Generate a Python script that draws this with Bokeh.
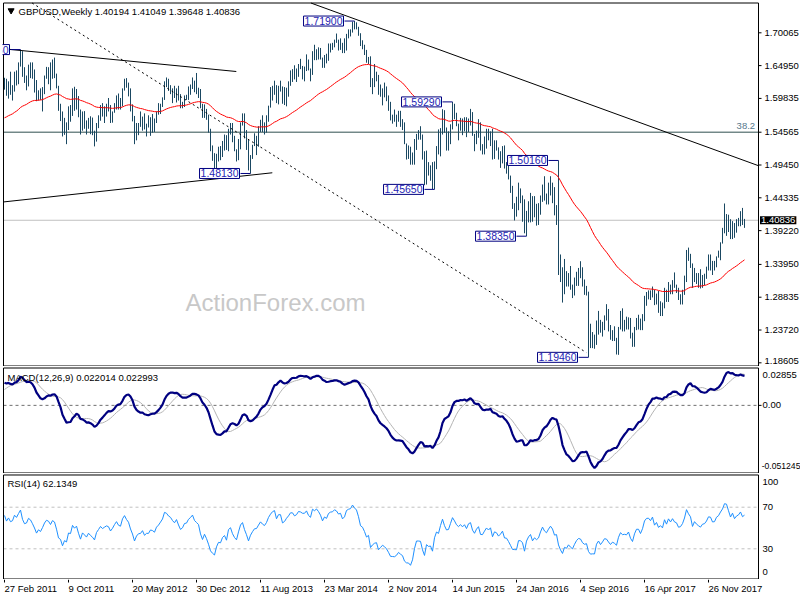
import numpy as np
from bokeh.plotting import figure
from bokeh.models import Range1d, Label
from bokeh.layouts import column
from bokeh.embed import file_html
from bokeh.resources import INLINE
from bokeh.core.properties import value

# ---------------- data (weekly GBPUSD, week 0 = 27 Feb 2011) ----------------
highs = [
    1.6305, 1.6290, 1.6250, 1.6400, 1.6190, 1.6400, 1.6420, 1.6545, 1.6745, 1.6720,
    1.6470, 1.6340, 1.6510, 1.6545, 1.6545, 1.6435, 1.6270, 1.6110, 1.6140, 1.6160,
    1.6340, 1.6475, 1.6470, 1.6545, 1.6590, 1.6620, 1.6370, 1.6180, 1.5900, 1.5780,
    1.5680, 1.5610, 1.5860, 1.5880, 1.6140, 1.6165, 1.6130, 1.6020, 1.5810, 1.5780,
    1.5785, 1.5640, 1.5680, 1.5705, 1.5685, 1.5480, 1.5600, 1.5720, 1.5880, 1.5910,
    1.5860, 1.5900, 1.5990, 1.5880, 1.5780, 1.5910, 1.6030, 1.6060, 1.5990, 1.6140,
    1.6290, 1.6300, 1.6230, 1.6140, 1.5890, 1.5710, 1.5600, 1.5600, 1.5780, 1.5700,
    1.5750, 1.5590, 1.5720, 1.5690, 1.5740, 1.5670, 1.5780, 1.5910, 1.5900, 1.6000,
    1.6250, 1.6310, 1.6290, 1.6190, 1.6140, 1.6180, 1.6140, 1.6180, 1.6050, 1.5930,
    1.6030, 1.6040, 1.6170, 1.6200, 1.6310, 1.6260, 1.6380, 1.6150, 1.6130, 1.5900,
    1.5890, 1.5820, 1.5730, 1.5510, 1.5250, 1.5130, 1.5120, 1.5230, 1.5240, 1.5320,
    1.5420, 1.5410, 1.5510, 1.5600, 1.5600, 1.5400, 1.5190, 1.5350, 1.5610, 1.5750,
    1.5750, 1.5490, 1.5350, 1.5100, 1.5260, 1.5440, 1.5400, 1.5550, 1.5650, 1.5720,
    1.5610, 1.5720, 1.5870, 1.6160, 1.6180, 1.6260, 1.6190, 1.6180, 1.6260, 1.6170,
    1.6160, 1.6150, 1.6250, 1.6420, 1.6440, 1.6500, 1.6450, 1.6520, 1.6600, 1.6490,
    1.6480, 1.6670, 1.6590, 1.6450, 1.6720, 1.6820, 1.6750, 1.6780, 1.6770, 1.6620,
    1.6660, 1.6680, 1.6840, 1.6840, 1.6850, 1.6900, 1.6995, 1.6900, 1.6920, 1.6850,
    1.6920, 1.6990, 1.7060, 1.7060, 1.7180, 1.7190, 1.7170, 1.7100, 1.7000, 1.6890,
    1.6820, 1.6740, 1.6630, 1.6640, 1.6300, 1.6520, 1.6400, 1.6350, 1.6200, 1.6140,
    1.6230, 1.6170, 1.6030, 1.5930, 1.5730, 1.5810, 1.5730, 1.5790, 1.5790, 1.5660,
    1.5610, 1.5280, 1.5250, 1.5230, 1.5140, 1.5350, 1.5430, 1.5490, 1.5550, 1.5420,
    1.5160, 1.5170, 1.4990, 1.4940, 1.4990, 1.5000, 1.5240, 1.5500, 1.5520, 1.5815,
    1.5800, 1.5530, 1.5470, 1.5580, 1.5929, 1.5900, 1.5760, 1.5590, 1.5680, 1.5670,
    1.5690, 1.5690, 1.5670, 1.5820, 1.5770, 1.5430, 1.5480, 1.5660, 1.5610, 1.5270,
    1.5390, 1.5510, 1.5510, 1.5470, 1.5510, 1.5330, 1.5330, 1.5220, 1.5160, 1.5240,
    1.5250, 1.4990, 1.4930, 1.4780, 1.4620, 1.4350, 1.4450, 1.4670, 1.4580, 1.4470,
    1.4410, 1.4230, 1.4380, 1.4510, 1.4460, 1.4460, 1.4340, 1.4350, 1.4470, 1.4640,
    1.4770, 1.4500, 1.4670, 1.4770, 1.4670, 1.4600, 1.4320, 1.5016, 1.3550, 1.3350,
    1.3480, 1.3290, 1.3260, 1.3370, 1.3080, 1.3190, 1.3280, 1.3340, 1.3445, 1.3350,
    1.3160, 1.3060, 1.2970, 1.2470, 1.2340, 1.2300, 1.2520, 1.2670, 1.2530, 1.2500,
    1.2600, 1.2775, 1.2700, 1.2450, 1.2370, 1.2430, 1.2250, 1.2420, 1.2670, 1.2710,
    1.2530, 1.2580, 1.2570, 1.2560, 1.2330, 1.2420, 1.2560, 1.2610, 1.2550, 1.2620,
    1.2905, 1.2965, 1.2990, 1.2990, 1.3050, 1.3000, 1.2940, 1.2980, 1.2820, 1.2800,
    1.3030, 1.3000, 1.3120, 1.3080, 1.3150, 1.3270, 1.3080, 1.3030, 1.2930, 1.3000,
    1.3220, 1.3620, 1.3657, 1.3560, 1.3410, 1.3340, 1.3260, 1.3260, 1.3320, 1.3230,
    1.3250, 1.3360, 1.3550, 1.3550, 1.3450, 1.3450, 1.3520, 1.3610, 1.3740, 1.3965,
    1.4345, 1.4180, 1.4170, 1.4100, 1.4070, 1.4040, 1.4100, 1.4120, 1.4225, 1.4276,
    1.41049,
]
lows = [
    1.6120, 1.6025, 1.5980, 1.6040, 1.5950, 1.6090, 1.6185, 1.6205, 1.6480, 1.6320,
    1.6225, 1.6110, 1.6170, 1.6300, 1.6290, 1.6075, 1.5940, 1.5950, 1.5960, 1.5780,
    1.6050, 1.6290, 1.6205, 1.6110, 1.6290, 1.6300, 1.6140, 1.5790, 1.5630, 1.5390,
    1.5415, 1.5270, 1.5490, 1.5620, 1.5710, 1.5790, 1.5810, 1.5690, 1.5420, 1.5480,
    1.5510, 1.5420, 1.5510, 1.5425, 1.5410, 1.5235, 1.5310, 1.5520, 1.5635, 1.5700,
    1.5600, 1.5700, 1.5780, 1.5600, 1.5605, 1.5760, 1.5810, 1.5810, 1.5810, 1.5860,
    1.6105, 1.6150, 1.6015, 1.5780, 1.5625, 1.5270, 1.5330, 1.5410, 1.5540, 1.5480,
    1.5500, 1.5390, 1.5530, 1.5400, 1.5450, 1.5460, 1.5600, 1.5730, 1.5740, 1.5850,
    1.5960, 1.6160, 1.6100, 1.6050, 1.5910, 1.5990, 1.5920, 1.5950, 1.5830, 1.5830,
    1.5850, 1.5960, 1.5960, 1.6040, 1.6130, 1.6080, 1.6050, 1.5990, 1.5830, 1.5680,
    1.5680, 1.5650, 1.5450, 1.5160, 1.5010, 1.4890, 1.4830, 1.5000, 1.5020, 1.5070,
    1.5170, 1.5180, 1.5160, 1.5420, 1.5300, 1.5160, 1.5000, 1.5020, 1.5190, 1.5560,
    1.5360, 1.5180, 1.4860, 1.4813, 1.5040, 1.5240, 1.5100, 1.5230, 1.5460, 1.5460,
    1.5420, 1.5450, 1.5620, 1.5840, 1.5950, 1.6040, 1.5910, 1.5890, 1.6090, 1.5900,
    1.5880, 1.5860, 1.6010, 1.6180, 1.6240, 1.6280, 1.6240, 1.6320, 1.6440, 1.6280,
    1.6250, 1.6410, 1.6420, 1.6250, 1.6350, 1.6580, 1.6580, 1.6590, 1.6590, 1.6460,
    1.6460, 1.6530, 1.6570, 1.6700, 1.6740, 1.6780, 1.6850, 1.6730, 1.6740, 1.6690,
    1.6690, 1.6730, 1.6920, 1.6950, 1.7010, 1.7060, 1.7060, 1.6960, 1.6800, 1.6750,
    1.6660, 1.6540, 1.6520, 1.6160, 1.6050, 1.6160, 1.6250, 1.6040, 1.6010, 1.5875,
    1.6000, 1.5940, 1.5790, 1.5640, 1.5590, 1.5620, 1.5540, 1.5620, 1.5540, 1.5490,
    1.5270, 1.5030, 1.5040, 1.4950, 1.4950, 1.4950, 1.5180, 1.5340, 1.5340, 1.5030,
    1.4630, 1.4640, 1.4780, 1.4700, 1.4570, 1.4565, 1.4880, 1.5110, 1.5080, 1.5420,
    1.5450, 1.5170, 1.5170, 1.5270, 1.5500, 1.5660, 1.5550, 1.5330, 1.5480, 1.5410,
    1.5470, 1.5380, 1.5460, 1.5560, 1.5400, 1.5160, 1.5270, 1.5370, 1.5170, 1.5110,
    1.5110, 1.5200, 1.5330, 1.5240, 1.5030, 1.5040, 1.5170, 1.5030, 1.4900, 1.4970,
    1.4890, 1.4810, 1.4720, 1.4510, 1.4260, 1.4080, 1.4140, 1.4240, 1.4350, 1.4060,
    1.3880, 1.3835, 1.4050, 1.4050, 1.4060, 1.4130, 1.4000, 1.4010, 1.4170, 1.4370,
    1.4390, 1.4330, 1.4330, 1.4470, 1.4350, 1.4160, 1.4010, 1.3230, 1.3120, 1.2800,
    1.2930, 1.3050, 1.3050, 1.3000, 1.2870, 1.2910, 1.3060, 1.3060, 1.3180, 1.3050,
    1.2920, 1.2910, 1.1946, 1.2090, 1.2090, 1.2080, 1.2140, 1.2300, 1.2330, 1.2270,
    1.2370, 1.2520, 1.2350, 1.2220, 1.2200, 1.2200, 1.1990, 1.1985, 1.2380, 1.2350,
    1.2350, 1.2380, 1.2380, 1.2240, 1.2110, 1.2110, 1.2370, 1.2380, 1.2370, 1.2370,
    1.2510, 1.2750, 1.2850, 1.2840, 1.2880, 1.2760, 1.2770, 1.2640, 1.2590, 1.2590,
    1.2710, 1.2810, 1.2810, 1.2930, 1.2930, 1.3030, 1.2950, 1.2840, 1.2770, 1.2770,
    1.2920, 1.3120, 1.3450, 1.3340, 1.3030, 1.3120, 1.3090, 1.3030, 1.3020, 1.3030,
    1.3070, 1.3170, 1.3300, 1.3300, 1.3230, 1.3300, 1.3350, 1.3500, 1.3460, 1.3720,
    1.3880, 1.3840, 1.3900, 1.3790, 1.3790, 1.3810, 1.3890, 1.3990, 1.3990, 1.4010,
    1.39648,
]
closes = [
    1.6255, 1.6080, 1.6220, 1.6100, 1.6140, 1.6385, 1.6320, 1.6500, 1.6690, 1.6405,
    1.6250, 1.6280, 1.6485, 1.6435, 1.6310, 1.6160, 1.5960, 1.6075, 1.6010, 1.6145,
    1.6320, 1.6435, 1.6405, 1.6305, 1.6450, 1.6410, 1.6185, 1.5830, 1.5760, 1.5420,
    1.5580, 1.5510, 1.5815, 1.5790, 1.6115, 1.6000, 1.6085, 1.5780, 1.5470, 1.5720,
    1.5615, 1.5500, 1.5650, 1.5540, 1.5450, 1.5310, 1.5580, 1.5700, 1.5830, 1.5745,
    1.5800, 1.5850, 1.5820, 1.5670, 1.5760, 1.5890, 1.6000, 1.5890, 1.5860, 1.6130,
    1.6270, 1.6160, 1.6080, 1.5860, 1.5670, 1.5350, 1.5510, 1.5590, 1.5600, 1.5690,
    1.5510, 1.5570, 1.5570, 1.5670, 1.5650, 1.5600, 1.5740, 1.5800, 1.5890, 1.5990,
    1.6240, 1.6220, 1.6160, 1.6130, 1.6060, 1.6010, 1.6100, 1.5980, 1.5870, 1.5910,
    1.6020, 1.6030, 1.6130, 1.6180, 1.6250, 1.6150, 1.6110, 1.6070, 1.5860, 1.5700,
    1.5810, 1.5680, 1.5480, 1.5170, 1.5030, 1.4920, 1.5100, 1.5210, 1.5190, 1.5320,
    1.5370, 1.5200, 1.5500, 1.5560, 1.5350, 1.5200, 1.5100, 1.5340, 1.5590, 1.5690,
    1.5430, 1.5210, 1.4890, 1.5100, 1.5240, 1.5360, 1.5370, 1.5510, 1.5650, 1.5570,
    1.5520, 1.5640, 1.5860, 1.6020, 1.6150, 1.6210, 1.5970, 1.6170, 1.6170, 1.5910,
    1.5970, 1.6110, 1.6220, 1.6370, 1.6370, 1.6290, 1.6340, 1.6480, 1.6470, 1.6440,
    1.6440, 1.6530, 1.6440, 1.6400, 1.6700, 1.6670, 1.6740, 1.6690, 1.6620, 1.6500,
    1.6620, 1.6590, 1.6750, 1.6800, 1.6810, 1.6880, 1.6860, 1.6810, 1.6830, 1.6740,
    1.6790, 1.6970, 1.7010, 1.7030, 1.7150, 1.7110, 1.7080, 1.6980, 1.6820, 1.6790,
    1.6700, 1.6570, 1.6600, 1.6220, 1.6270, 1.6300, 1.6310, 1.6050, 1.6090, 1.6130,
    1.6080, 1.6000, 1.5860, 1.5660, 1.5650, 1.5640, 1.5660, 1.5700, 1.5630, 1.5570,
    1.5280, 1.5160, 1.5150, 1.4970, 1.5050, 1.5240, 1.5390, 1.5390, 1.5380, 1.5050,
    1.4730, 1.4980, 1.4890, 1.4900, 1.4620, 1.4990, 1.5190, 1.5130, 1.5430, 1.5730,
    1.5470, 1.5280, 1.5300, 1.5570, 1.5880, 1.5750, 1.5590, 1.5510, 1.5600, 1.5510,
    1.5600, 1.5450, 1.5650, 1.5700, 1.5410, 1.5270, 1.5430, 1.5530, 1.5190, 1.5180,
    1.5310, 1.5430, 1.5350, 1.5430, 1.5050, 1.5230, 1.5190, 1.5040, 1.5110, 1.5210,
    1.4910, 1.4900, 1.4740, 1.4530, 1.4270, 1.4260, 1.4250, 1.4500, 1.4500, 1.4400,
    1.3900, 1.4220, 1.4370, 1.4460, 1.4120, 1.4230, 1.4130, 1.4190, 1.4410, 1.4610,
    1.4440, 1.4360, 1.4500, 1.4620, 1.4510, 1.4240, 1.4260, 1.3680, 1.3290, 1.2950,
    1.3180, 1.3100, 1.3230, 1.3050, 1.2920, 1.3080, 1.3220, 1.3300, 1.3270, 1.3060,
    1.2960, 1.2980, 1.2430, 1.2190, 1.2200, 1.2190, 1.2490, 1.2600, 1.2380, 1.2470,
    1.2580, 1.2560, 1.2410, 1.2270, 1.2340, 1.2280, 1.2180, 1.2410, 1.2560, 1.2480,
    1.2490, 1.2470, 1.2550, 1.2320, 1.2180, 1.2400, 1.2550, 1.2550, 1.2400, 1.2550,
    1.2840, 1.2950, 1.2960, 1.2890, 1.3030, 1.2790, 1.2890, 1.2730, 1.2790, 1.2720,
    1.3020, 1.2880, 1.3100, 1.3000, 1.3140, 1.3040, 1.3010, 1.2870, 1.2890, 1.2990,
    1.3200, 1.3610, 1.3490, 1.3400, 1.3070, 1.3280, 1.3190, 1.3130, 1.3080, 1.3190,
    1.3210, 1.3310, 1.3480, 1.3470, 1.3340, 1.3350, 1.3510, 1.3570, 1.3720, 1.3860,
    1.4150, 1.4140, 1.3990, 1.3830, 1.4000, 1.3850, 1.3960, 1.4010, 1.4140, 1.4020,
    1.40836,
]
# weekly closes before the first visible bar (Mar 2010 - Feb 2011), used only to warm up the indicators
warmup_closes = [
    1.5000, 1.5050, 1.5150, 1.4900, 1.5200, 1.5300, 1.5440, 1.5380, 1.5280, 1.4830,
    1.4560, 1.4370, 1.4480, 1.4510, 1.4540, 1.4800, 1.5110, 1.5150, 1.5160, 1.5300,
    1.5420, 1.5520, 1.5890, 1.5650, 1.5530, 1.5470, 1.5500, 1.5440, 1.5600, 1.5700,
    1.5790, 1.5870, 1.5900, 1.5720, 1.5730, 1.6240, 1.6140, 1.5980, 1.5760, 1.5610,
    1.5760, 1.5600, 1.5420, 1.5600, 1.5500, 1.5850, 1.5980, 1.5960, 1.6120, 1.6040,
    1.6200, 1.6140,
]
ema55_start = 1.57   # 55-week EMA level at the start of the warm-up

date_ticks = [0, 32, 64, 96, 128, 160, 192, 224, 256, 288, 320, 352]
date_labels = ["27 Feb 2011", "9 Oct 2011", "20 May 2012", "30 Dec 2012", "11 Aug 2013",
               "23 Mar 2014", "2 Nov 2014", "14 Jun 2015", "24 Jan 2016", "4 Sep 2016",
               "16 Apr 2017", "26 Nov 2017"]
price_ticks = [1.70065, 1.64950, 1.59835, 1.54565, 1.49450, 1.44335, 1.39220,
               1.33950, 1.28835, 1.23720, 1.18605]
macd_labels = ["0.02855", "0.00", "-0.051245"]
rsi_labels = ["100", "70", "30", "0"]

marked_weeks = [8, 123, 175, 215, 224, 261, 277, 292]
marked_prices = [1.6745, 1.4813, 1.7190, 1.4565, 1.5929, 1.3835, 1.5016, 1.1946]
fib_level = 1.5457
last_price = 1.40836

# analyst trend lines (week, price) end points
tl_upper = ([-0.5, 115.9], [1.6757, 1.6403])
tl_lower = ([-0.5, 133.9], [1.4369, 1.4824])
tl_dotted = ([13.8, 290.9], [1.7471, 1.2021])
tl_long = ([153.2, 377.0], [1.7471, 1.4934])

# ---------------- indicators ----------------
allc = np.array(warmup_closes + closes, dtype=float)
nw = len(warmup_closes)


def ema(vals, n, seed=None):
    k = 2.0 / (n + 1)
    out = np.empty(len(vals))
    prev = vals[0] if seed is None else seed
    for i, v in enumerate(vals):
        prev = prev + k * (v - prev)
        out[i] = prev
    return out


ema55 = ema(allc, 55, ema55_start)
macd = ema(allc, 12) - ema(allc, 26)
signal = np.array([macd[max(0, i - 8):i + 1].mean() for i in range(len(macd))])

d = np.diff(allc)
gains = np.where(d > 0, d, 0.0)
losses = np.where(d < 0, -d, 0.0)
rsi = np.full(len(allc), 50.0)
ag, al = gains[:14].mean(), losses[:14].mean()
for i in range(14, len(d)):
    ag = (ag * 13 + gains[i]) / 14
    al = (al * 13 + losses[i]) / 14
    rsi[i + 1] = 100 - 100 / (1 + ag / al) if al > 0 else 100

weeks = np.arange(len(closes))
ema_v = ema55[nw:]
macd_v = macd[nw:]
sig_v = signal[nw:]
rsi_v = rsi[nw:]

# ---------------- layout constants (2 px per week) ----------------
FONT = "Liberation Sans"
BAR = "#1a4862"
xr = Range1d(-1.0, 398.0)         # full canvas width: plot area + price scale
XL, XR = -0.5, 377.0              # plot-area border (weeks)
TICK_END = 378.5                  # end of scale tick marks
LBL_X = 380.0                     # start of scale labels


def panel(height, y0, y1):
    p = figure(width=800, height=height, x_range=xr, y_range=Range1d(y0, y1),
               x_axis_location=None, y_axis_location=None,
               output_backend="svg", toolbar_location=None,
               min_border_left=2, min_border_right=0, min_border_top=0,
               min_border_bottom=0, outline_line_color=None,
               background_fill_color="white", border_fill_color="white")
    p.grid.visible = False
    return p


def border(p, bot, top):
    p.line([XL, XR, XR, XL, XL], [top, top, bot, bot, top], line_color="black", line_width=1)


def txt(p, x, y, s, size="9.5px", color="black", align="left", **kw):
    lab = Label(x=x, y=y, text=s, text_font=FONT, text_font_size=size,
                text_color=color, text_align=align, text_baseline="middle", **kw)
    p.add_layout(lab)
    return lab


def scale_text(p, ys, labels, x=LBL_X, size="9.5px"):
    p.text(x=[x] * len(ys), y=ys, text=labels, text_font=value(FONT),
           text_font_size=size, text_color="black", text_baseline="middle",
           text_align="left")


# ---------------- main price panel (canvas 0..366) ----------------
p1 = panel(366, 1.18031, 1.75102)
BOT1, TOP1 = 1.18108, 1.74712
px1 = 366 / (1.75102 - 1.18031)

wm = Label(x=135.5, y=1.2801, text="ActionForex.com", text_font=FONT,
           text_font_size="24px", text_color="#c8c8c8", text_align="center",
           text_baseline="middle", level="underlay")
p1.add_layout(wm)

p1.segment(x0=XL, x1=XR, y0=fib_level, y1=fib_level, line_color="#2f4f4f", line_width=1)
p1.segment(x0=XL, x1=XR, y0=last_price, y1=last_price, line_color="#c0c0c0", line_width=1)

p1.segment(x0=weeks, y0=lows, x1=weeks, y1=highs, line_color=BAR, line_width=1)
p1.line(weeks, ema_v, line_color="#ff0000", line_width=1)

p1.line(tl_upper[0], tl_upper[1], line_color="black", line_width=1)
p1.line(tl_lower[0], tl_lower[1], line_color="black", line_width=1)
p1.line(tl_long[0], tl_long[1], line_color="black", line_width=1)
p1.line(tl_dotted[0], tl_dotted[1], line_color="black", line_width=1, line_dash="2 3")

for w, pr in zip(marked_weeks, marked_prices):
    p1.segment(x0=[w - 5], y0=[pr], x1=[w], y1=[pr], line_color="#000080", line_width=1)
    p1.add_layout(Label(x=w, y=pr, x_offset=-11, text=f"{pr:.5f}", text_font=FONT,
                        text_font_size="10.5px", text_color="#2424b4", text_align="right",
                        text_baseline="middle", background_fill_color="white",
                        border_line_color="#000080", border_line_width=1, padding=1))

txt(p1, 375.3, 1.5553, "38.2", color="#56788c", align="right")
p1.scatter(x=[3.3], y=[1.7354], marker="inverted_triangle", size=6, color="black")
txt(p1, 7.0, 1.7346, "GBPUSD,Weekly 1.40194 1.41049 1.39648 1.40836")
border(p1, BOT1, TOP1)

# price scale
p1.segment(x0=XR, x1=TICK_END, y0=price_ticks, y1=price_ticks, line_color="black", line_width=1)
label_y = list(price_ticks)
label_y[-1] = price_ticks[-1] + 2.0 / px1          # keep the lowest label inside the panel
scale_text(p1, label_y, [f"{v:.5f}" for v in price_ticks])
p1.add_layout(Label(x=377.75, y=last_price, text=f"{last_price:.5f}", text_font=FONT,
                    text_font_size="9.5px", text_color="white", text_align="left",
                    text_baseline="middle", background_fill_color="black", padding=1))

# ---------------- MACD panel (canvas 366..473) ----------------
p2 = panel(107, -0.051777, 0.029538)
px2 = 107 / (0.029538 + 0.051777)
BOT2, TOP2 = -0.051397, 0.028398
p2.segment(x0=XL, x1=XR, y0=0.0, y1=0.0, line_color="#707070", line_width=1, line_dash="3 3")
p2.line(weeks, sig_v, line_color="#b4b4b4", line_width=1)
p2.line(weeks, macd_v, line_color="#000080", line_width=2.2)
txt(p2, 1.5, 0.021407, "MACD(12,26,9) 0.022014 0.022993")
border(p2, BOT2, TOP2)
p2.segment(x0=XR, x1=TICK_END, y0=0.0, y1=0.0, line_color="black", line_width=1)
macd_label_y = [0.029538 - 8.3 / px2, 0.0, 0.029538 - 99.0 / px2]
scale_text(p2, macd_label_y[:2], macd_labels[:2], x=379.0)
scale_text(p2, macd_label_y[2:], macd_labels[2:], x=378.6, size="8.6px")

# ---------------- RSI panel (canvas 473..579) ----------------
p3 = panel(106, 0.48, 102.4)
BOT3, TOP3 = 0.96, 100.96
for lv in (70, 30):
    p3.segment(x0=XL, x1=XR, y0=lv, y1=lv, line_color="#c0c0c0", line_width=1, line_dash="3 3")
p3.line(weeks, rsi_v, line_color="#1e90ff", line_width=1)
txt(p3, 1.5, 92.8, "RSI(14) 62.1349")
border(p3, BOT3, TOP3)
scale_text(p3, [94.0, 70.0, 30.0, 7.5], rsi_labels, x=379.0)

# ---------------- time scale (canvas 579..600) ----------------
p4 = panel(21, 0, 21)
p4.segment(x0=date_ticks, x1=date_ticks, y0=21, y1=18, line_color="black", line_width=1)
for t, s in zip(date_ticks, date_labels):
    txt(p4, t, 11.7, s)

layout = column(p1, p2, p3, p4, spacing=0)
open("out.html", "w").write(file_html(layout, INLINE))
